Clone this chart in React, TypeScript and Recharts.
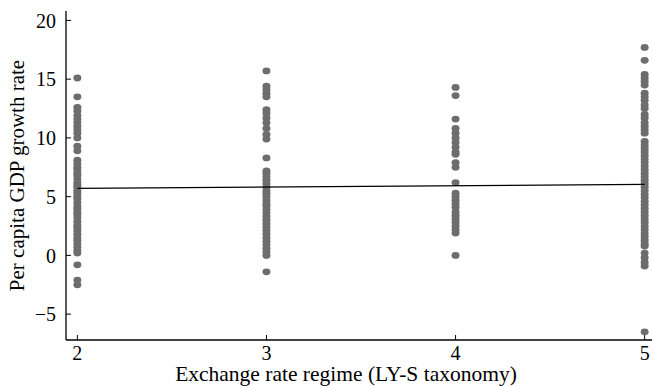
import React from "react";
import {
  ScatterChart,
  Scatter,
  XAxis,
  YAxis,
} from "recharts";

const regimeTicks = [2, 3, 4, 5];
const growthTicks = [-5, 0, 5, 10, 15, 20];

const regime2 = [
  15.1, 13.5, 12.6, 12.3, 11.9, 11.6, 11.3, 11.0, 10.7, 10.4, 10.0, 9.3, 8.9,
  8.1, 7.8, 7.5, 7.3, 7.0, 6.8, 6.5, 6.2, 6.0, 5.8, 5.5, 5.3, 5.0, 4.8, 4.5,
  4.2, 4.0, 3.7, 3.5, 3.2, 2.9, 2.6, 2.4, 2.1, 1.8, 1.5, 1.3, 1.0, 0.7, 0.4,
  0.2, -0.8, -2.1, -2.5,
];
const regime3 = [
  15.7, 14.4, 14.1, 13.8, 13.5, 12.4, 12.1, 11.7, 11.3, 10.8, 10.3, 9.9, 8.3,
  7.2, 7.0, 6.7, 6.4, 6.1, 5.8, 5.5, 5.3, 5.0, 4.7, 4.4, 4.2, 3.9, 3.6, 3.3,
  3.0, 2.7, 2.4, 2.1, 1.8, 1.5, 1.2, 0.9, 0.6, 0.3, 0.0, -1.4,
];
const regime4 = [
  14.3, 13.6, 11.6, 10.8, 10.4, 10.0, 9.6, 9.2, 8.8, 8.6, 7.9, 7.5, 6.2, 5.3,
  5.0, 4.7, 4.4, 4.1, 3.7, 3.4, 3.1, 2.8, 2.5, 2.2, 1.9, 0.0,
];
const regime5 = [
  17.7, 16.6, 15.4, 15.1, 14.8, 14.5, 13.8, 13.5, 13.2, 12.8, 12.5, 12.0, 11.7,
  11.3, 11.0, 10.7, 10.4, 9.7, 9.4, 9.1, 8.8, 8.5, 8.2, 7.9, 7.6, 7.3, 7.0, 6.7,
  6.4, 6.1, 5.8, 5.5, 5.2, 4.9, 4.6, 4.3, 4.0, 3.7, 3.4, 3.1, 2.8, 2.5, 2.2,
  1.9, 1.6, 1.3, 1.0, 0.8, 0.2, -0.2, -0.6, -0.9, -6.5,
];

const fitLine = [
  { x: 2, y: 5.7 },
  { x: 5, y: 6.05 },
];

const points = [
  ...regime2.map((y) => ({ x: 2, y })),
  ...regime3.map((y) => ({ x: 3, y })),
  ...regime4.map((y) => ({ x: 4, y })),
  ...regime5.map((y) => ({ x: 5, y })),
];

const font = "'Liberation Serif', 'Times New Roman', serif";

const Dot = (props: any) => (
  <ellipse cx={props.cx} cy={props.cy} rx={4} ry={3.4} fill="#6d6d6d" />
);

export default function App() {
  return (
    <div
      style={{
        position: "absolute",
        left: 0,
        top: 0,
        width: 652,
        height: 386,
        overflow: "hidden",
        background: "#fff",
      }}
    >
      <ScatterChart
        width={656}
        height={386}
        margin={{ top: 11, right: 0, bottom: 0, left: 0 }}
      >
        <XAxis
          xAxisId="top"
          orientation="top"
          type="number"
          dataKey="x"
          domain={[1.94, 5.06]}
          height={0}
          tick={false}
          tickLine={false}
          axisLine={{ stroke: "#000", strokeWidth: 1.3 }}
        />
        <XAxis
          type="number"
          dataKey="x"
          domain={[1.94, 5.06]}
          ticks={regimeTicks}
          height={46}
          tickSize={-5}
          tickMargin={11}
          axisLine={{ stroke: "#000", strokeWidth: 1.3 }}
          tickLine={{ stroke: "#000" }}
          tick={{ fill: "#000", fontFamily: font, fontSize: 20 }}
          label={{
            value: "Exchange rate regime (LY-S taxonomy)",
            position: "insideBottom",
            offset: 5,
            dx: -15,
            style: { fill: "#000", fontFamily: font, fontSize: 21.5 },
          }}
        />
        <YAxis
          type="number"
          dataKey="y"
          domain={[-7.2, 20.8]}
          ticks={growthTicks}
          width={66}
          tickSize={-5}
          tickMargin={15}
          axisLine={{ stroke: "#000", strokeWidth: 1.3 }}
          tickLine={{ stroke: "#000" }}
          tick={{ fill: "#000", fontFamily: font, fontSize: 20 }}
          tickFormatter={(v: number) => (v < 0 ? `\u2212${Math.abs(v)}` : `${v}`)}
          label={{
            value: "Per capita GDP growth rate",
            angle: -90,
            position: "insideLeft",
            offset: 17,
            style: { fill: "#000", fontFamily: font, fontSize: 21, textAnchor: "middle" },
          }}
        />
        <Scatter
          data={points}
          shape={Dot}
          isAnimationActive={false}
        />
        <Scatter
          data={fitLine}
          line={{ stroke: "#000", strokeWidth: 1.3 }}
          shape={() => <g />}
          isAnimationActive={false}
        />
      </ScatterChart>
    </div>
  );
}
